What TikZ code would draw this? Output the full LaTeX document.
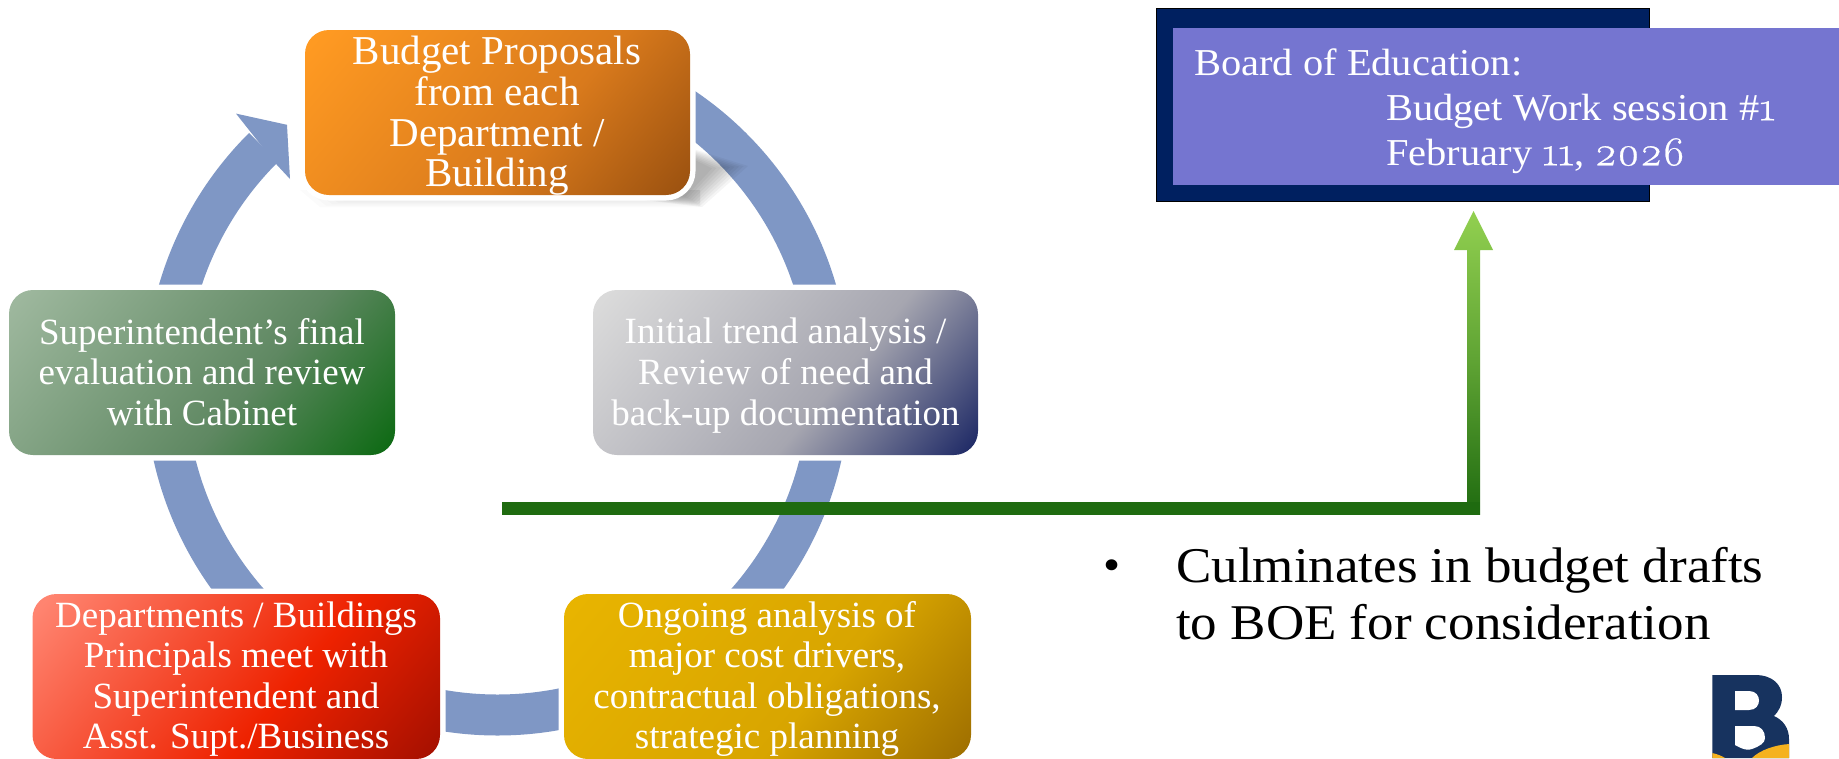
\documentclass[tikz,border=0pt]{standalone}
\usepackage{fontspec}
\setmainfont{Liberation Serif}
\newfontfamily\wideserif[FakeStretch=1.06]{Liberation Serif}
\newfontfamily\boardserif[FakeStretch=1.065]{Liberation Serif}
\newfontfamily\oldnum[Numbers=OldStyle,FakeStretch=1.06,FakeBold=0.6,Scale=1.08]{Latin Modern Roman}
\usetikzlibrary{calc}
\definecolor{ringc}{HTML}{7F97C5}
\definecolor{greendk}{HTML}{1F6B10}
\definecolor{greenlt}{HTML}{92D050}
\definecolor{navy}{HTML}{002060}
\definecolor{lilac}{HTML}{7575D0}
\definecolor{logonavy}{HTML}{17335F}
\definecolor{logogold}{HTML}{F5B21E}
\definecolor{orange1}{HTML}{FF9A22}\definecolor{orange2}{HTML}{D97A1C}\definecolor{orange3}{HTML}{9C5210}
\definecolor{grey1}{HTML}{DADADA}\definecolor{grey2}{HTML}{A6A6B0}\definecolor{grey3}{HTML}{1F2A66}
\definecolor{green1}{HTML}{9DB79D}\definecolor{green2}{HTML}{5F8862}\definecolor{green3}{HTML}{0E6A14}
\definecolor{red1}{HTML}{FF8470}\definecolor{red2}{HTML}{EE2200}\definecolor{red3}{HTML}{A61000}
\definecolor{gold1}{HTML}{E8B400}\definecolor{gold2}{HTML}{D8A500}\definecolor{gold3}{HTML}{A07000}
\pgfdeclarehorizontalshading{gorange}{100bp}{color(0bp)=(orange1); color(17bp)=(orange1); color(58bp)=(orange2); color(84bp)=(orange3); color(100bp)=(orange3)}
\pgfdeclarehorizontalshading{ggrey}{100bp}{color(0bp)=(grey1); color(17bp)=(grey1); color(58bp)=(grey2); color(84bp)=(grey3); color(100bp)=(grey3)}
\pgfdeclarehorizontalshading{ggreen}{100bp}{color(0bp)=(green1); color(17bp)=(green1); color(58bp)=(green2); color(84bp)=(green3); color(100bp)=(green3)}
\pgfdeclarehorizontalshading{gred}{100bp}{color(0bp)=(red1); color(17bp)=(red1); color(58bp)=(red2); color(84bp)=(red3); color(100bp)=(red3)}
\pgfdeclarehorizontalshading{ggold}{100bp}{color(0bp)=(gold1); color(17bp)=(gold1); color(58bp)=(gold2); color(84bp)=(gold3); color(100bp)=(gold3)}
\tikzset{
  ringarc/.style={draw=ringc,line width=41pt},
  stepbox/.style={shape=rectangle,rounded corners=24pt,inner sep=0pt,minimum width=#1,
    minimum height=165pt,shade,shading angle=-40,
    preaction={draw=white,line width=11pt}},
  boxtext/.style={text=white,align=center,inner sep=0pt,font=\fontsize{37}{40.6}\selectfont},
  shadowlayer/.style={fill=black,opacity=.04},
  faintlayer/.style={fill=black,opacity=.014}
}
\begin{document}
\begin{tikzpicture}[x=1pt,y=1pt]
\useasboundingbox (0,0) rectangle (1839,-758);
\clip (0,0) rectangle (1839,-758);
\coordinate (cc) at (497.5,-383);
% ring
\draw[ringarc] (cc) ++(134.8:332) arc[start angle=134.8,end angle=175,radius=332];
\fill[ringc] (248.7,-129.6) -- (236,-113.6) -- (287,-124.8) -- (290,-179) -- (275.5,-163.4) -- cycle;
\draw[ringarc] (cc) ++(185:332) arc[start angle=185,end angle=240,radius=332];
\draw[ringarc] (cc) ++(250:332) arc[start angle=250,end angle=290,radius=332];
\draw[ringarc] (cc) ++(300:332) arc[start angle=300,end angle=355,radius=332];
\draw[ringarc] (cc) ++(5:332) arc[start angle=5,end angle=60,radius=332];
% shadow of top box
\foreach \t in {0,1,2,3,4}{
  \fill[faintlayer] ({300+6*\t},-190) -- (700,-190) -- (700,{-207+1.5*\t}) -- ({320+6*\t},{-207+1.5*\t}) -- cycle;
}
\foreach \t in {0,1,...,8}{
  \fill[shadowlayer] (610,-196) -- (690,{-148-1.2*\t}) -- ({748-4.5*\t},{-166-0.3*\t}) -- ({702-2*\t},{-207+1.3*\t}) -- cycle;
}
% boxes
\node[stepbox=385pt,shading=gorange] (top) at (497.5,-112.5) {};
\node[stepbox=385pt,shading=ggrey] (rgt) at (785.5,-372.5) {};
\node[stepbox=386pt,shading=ggreen] (lft) at (202,-372.5) {};
\node[stepbox=407.5pt,shading=gred] (bl) at (236.25,-676.5) {};
\node[stepbox=407pt,shading=ggold] (br) at (767.5,-676.5) {};
\node[boxtext,font=\fontsize{41}{40.6}\selectfont] (toptx) at (497,-116) {Budget Proposals\\from each\\Department /\\Building};
\node[boxtext] (rgttx) at (785.5,-375.5) {Initial trend analysis /\\Review of need and\\back-up documentation};
\node[boxtext] (lfttx) at (202,-372) {Superintendent’s final\\evaluation and review\\with Cabinet};
\node[boxtext] (bltx) at (236,-679) {Departments / Buildings\\Principals meet with\\Superintendent and\\Asst. Supt./Business};
\node[boxtext] (brtx) at (767,-679) {Ongoing analysis of\\major cost drivers,\\contractual obligations,\\strategic planning};
% board
\node[shape=rectangle,draw=black,line width=1pt,fill=navy,minimum width=493pt,minimum height=193.6pt,inner sep=0pt] (boardbg) at (1402.75,-104.8) {};
\node[shape=rectangle,fill=lilac,minimum width=666pt,minimum height=157pt,inner sep=0pt] (board) at (1506,-106.5) {};
\node[anchor=west,align=left,text=white,inner sep=0pt,font=\boardserif\fontsize{38}{45}\selectfont] (boardtx) at (1194,-111) {Board of Education:\\\hspace*{192pt}Budget Work session \#{\oldnum 1}\\\hspace*{192pt}February {\oldnum 11}, {\oldnum 2026}};
% green arrow
\coordinate (gs) at (502,-508.2);
\coordinate (gc) at (1473.6,-508.2);
\coordinate (gt) at (1473.6,-211);
\shade[bottom color=greendk,top color=greenlt,middle color=greenlt!55!greendk]
  ($(gc)+(-6.6,-6.7)$) -- ($(gc)+(6.6,-6.7)$) -- (1480.2,-250) -- (1493,-250) -- (gt) -- (1454,-250) -- (1467,-250) -- cycle;
\draw[draw=greendk,line width=13.4pt] (gs) -- ($(gc)+(6.6,0)$);
% bullet text
\node[anchor=center,font=\wideserif\fontsize{46}{57}\selectfont,inner sep=0pt] (bul) at (1112,-570) {•};
\node[anchor=west,align=left,inner sep=0pt,font=\wideserif\fontsize{50}{57}\selectfont] (cul) at (1176,-594) {Culminates in budget drafts\\to BOE for consideration};
% logo
\fill[logonavy] (1712.3,-675) -- (1755,-675) .. controls (1773,-675) and (1782,-685) .. (1782,-697) .. controls (1782,-706) and (1778,-712) .. (1774,-716) .. controls (1783,-720) and (1789,-728) .. (1789,-739) -- (1789,-758) -- (1712.3,-758) -- cycle;
\fill[white] (1735,-691) -- (1749,-691) .. controls (1756,-691) and (1759,-696) .. (1759,-700.5) .. controls (1759,-705) and (1756,-710) .. (1749,-710) -- (1735,-710) -- cycle;
\fill[white] (1735,-726) -- (1754,-726) .. controls (1761,-726) and (1765,-731) .. (1765,-738) .. controls (1765,-743) and (1760,-746) .. (1752,-749) .. controls (1748,-750.5) and (1744,-750) .. (1735,-745) -- cycle;
\fill[logogold] (1712.3,-753) .. controls (1717,-754) and (1722,-756) .. (1725,-758) -- (1712.3,-758) -- cycle;
\fill[logogold] (1752,-758) .. controls (1760,-750) and (1775,-745) .. (1789,-744) -- (1789,-758) -- cycle;
\end{tikzpicture}
\end{document}
